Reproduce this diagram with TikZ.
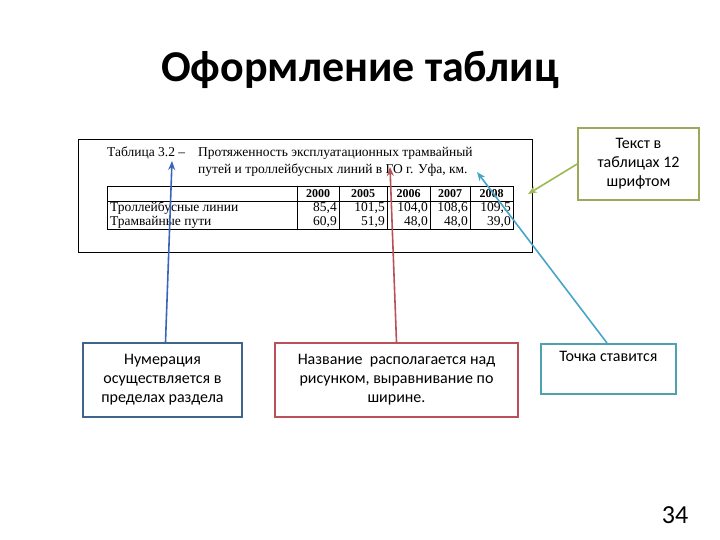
\documentclass[tikz,border=0pt]{standalone}
\usepackage{fontspec}
\setmainfont{Carlito}
\newfontfamily\tms{Liberation Serif}
\usetikzlibrary{arrows.meta}
\begin{document}
\begin{tikzpicture}[x=1pt,y=-1pt,
  callout/.style={draw,line width=1.6pt,align=center,font=\fontsize{16}{19}\selectfont,inner sep=3pt},
  arr/.style={line width=1.6pt,-{Stealth[length=9pt,width=7pt]}},
  tt/.style={font=\tms\fontsize{13.5}{14}\selectfont,inner sep=0pt}]
\useasboundingbox (0,0) rectangle (720,540);
\node[font=\bfseries\fontsize{44}{48}\selectfont] (title) at (360,70) {Оформление таблиц};
% table frame
\draw[line width=0.8pt] (78,139) rectangle (532,252);
\node[tt,anchor=west] (cap) at (107,153) {Таблица 3.2 –};
\node[tt,anchor=west] (cap1) at (198,153) {Протяженность эксплуатационных трамвайный};
\node[tt,anchor=west] (cap2) at (198,170) {путей и троллейбусных линий в ГО г. Уфа, км.};
\draw[line width=0.6pt] (107,186) rectangle (513,229);
\draw[line width=0.6pt] (107,201) -- (513,201);
\foreach \x in {297,339,387,430,470} \draw[line width=0.6pt] (\x,186) -- (\x,229);
\node[tt,anchor=west] (r1) at (110,208) {Троллейбусные линии};
\node[tt,anchor=west] (r2) at (110,222) {Трамвайные пути};
\foreach \xl/\xr/\h/\a/\b in {297/339/2000/{85,4}/{60,9}, 339/387/2005/{101,5}/{51,9}, 387/430/2006/{104,0}/{48,0}, 430/470/2007/{108,6}/{48,0}, 470/513/2008/{109,5}/{39,0}}{
  \node[tt,font=\tms\bfseries\fontsize{12}{13}\selectfont] at ({(\xl+\xr)/2},193.5) {\h};
  \node[tt,anchor=east] at (\xr-2,208) {\a};
  \node[tt,anchor=east] at (\xr-2,222) {\b};
}
\coordinate (tipA) at (172,161);
\coordinate (tipB) at (390,167);
\coordinate (tipC) at (477,172);
\coordinate (tipD) at (528,194);
% callouts
\node[callout,draw={rgb,255:red,65;green,100;blue,140},minimum width=159pt,minimum height=74pt] (b1) at (162.5,380) {Нумерация\\осуществляется в\\пределах раздела};
\node[callout,draw={rgb,255:red,185;green,80;blue,90},minimum width=243pt,minimum height=74pt] (b2) at (396.5,380) {Название \ располагается над\\рисунком, выравнивание по\\ширине.};
\node[callout,draw={rgb,255:red,80;green,160;blue,175},minimum width=135pt,minimum height=50pt,anchor=north west,text depth=24pt] (b3) at (540,343) {Точка ставится};
\node[callout,draw={rgb,255:red,155;green,170;blue,90},minimum width=121pt,minimum height=72pt] (b4) at (638.5,164) {Текст в\\таблицах 12\\шрифтом};
\draw[arr,draw={rgb,255:red,60;green,100;blue,190}] (b1.north) ++(3,0) -- (tipA);
\draw[arr,draw={rgb,255:red,185;green,80;blue,90}] (b2.north) -- (tipB);
\draw[arr,draw={rgb,255:red,70;green,165;blue,200}] (607,343) -- (tipC);
\draw[arr,draw={rgb,255:red,155;green,185;blue,80}] (b4.west) -- (tipD);
\node[font=\fontsize{26}{28}\selectfont] (pg) at (675,515) {34};
\end{tikzpicture}
\end{document}
